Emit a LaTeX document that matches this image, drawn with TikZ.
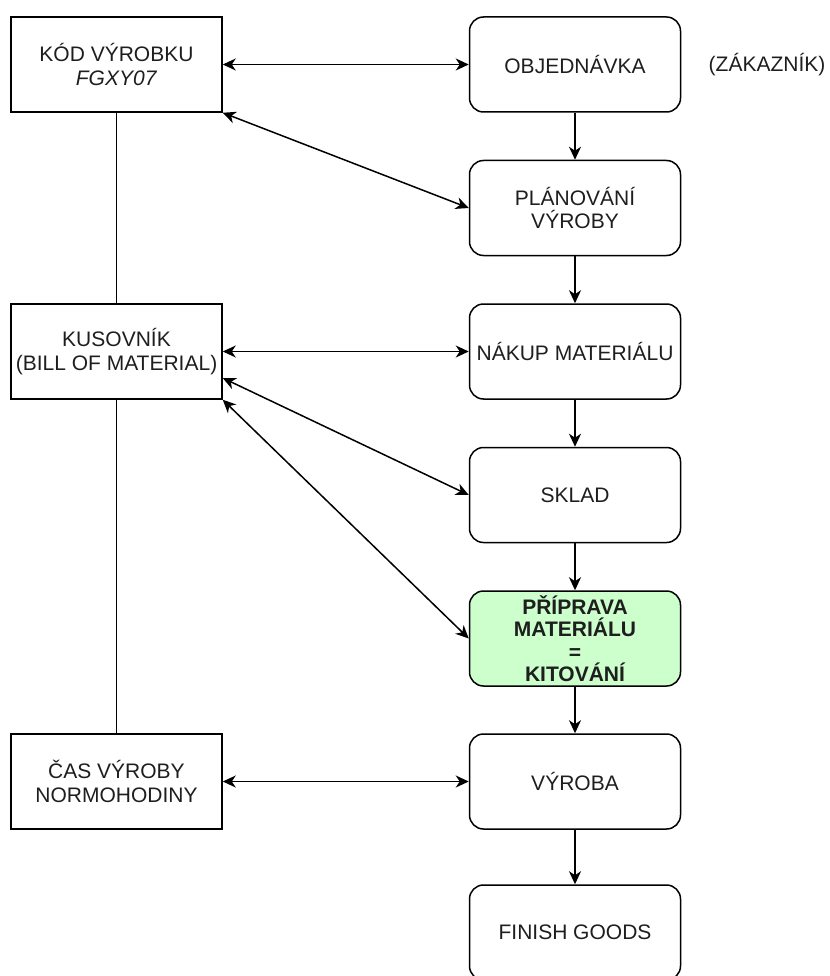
\documentclass[tikz,border=0pt]{standalone}
\usepackage{fontspec}
\setmainfont{Liberation Sans}
\usetikzlibrary{arrows.meta}
\definecolor{kitgreen}{RGB}{204,255,204}
\definecolor{txt}{RGB}{30,30,30}
\begin{document}
\begin{tikzpicture}[x=1pt,y=-1pt,
  every node/.style={font=\fontsize{21}{23.5}\selectfont, text=txt, align=center},
  sqbox/.style={draw, line width=1.5pt, minimum width=211pt, minimum height=95pt, inner sep=2pt},
  rbox/.style={draw, line width=1.5pt, rounded corners=14pt, minimum width=211pt, minimum height=95pt, inner sep=2pt},
  conn/.style={line width=1.5pt},
  tip/.tip={Stealth[length=13pt,width=12pt,inset=4pt]},
  arr/.style={conn, -tip},
  darr/.style={conn, tip-tip}]
\useasboundingbox (0,0) rectangle (829,976);
\clip (0,0) rectangle (829,976);

\node[sqbox] (kod) at (116.5,64.5) {KÓD VÝROBKU\\\textit{FGXY07}};
\node[sqbox] (kus) at (116.5,351.5) {KUSOVNÍK\\(BILL OF MATERIAL)};
\node[sqbox] (cas) at (116.5,781.5) {ČAS VÝROBY\\NORMOHODINY};

\node[rbox] (obj) at (575,64.5) {OBJEDNÁVKA};
\node[rbox] (plan) at (575,208) {PLÁNOVÁNÍ\\VÝROBY};
\node[rbox] (nak) at (575,351.5) {NÁKUP MATERIÁLU};
\node[rbox] (skl) at (575,495) {SKLAD};
\node[rbox, fill=kitgreen, font=\fontsize{21}{22.5}\selectfont\bfseries] (kit) at (575,638.5) {PŘÍPRAVA\\MATERIÁLU\\=\\KITOVÁNÍ};
\node[rbox] (vyr) at (575,781.5) {VÝROBA};
\node[rbox] (fin) at (575,932.5) {FINISH GOODS};

\node (zak) at (767,65) {(ZÁKAZNÍK)};

\draw[conn] (kod.south) -- (kus.north);
\draw[conn] (kus.south) -- (cas.north);

\draw[arr] (obj.south) -- (plan.north);
\draw[arr] (plan.south) -- (nak.north);
\draw[arr] (nak.south) -- (skl.north);
\draw[arr] (skl.south) -- (kit.north);
\draw[arr] (kit.south) -- (vyr.north);
\draw[arr] (vyr.south) -- (fin.north);

\draw[darr] (kod.east) -- (obj.west);
\draw[darr] (kod.south east) -- (plan.west);
\draw[darr] (kus.east) -- (nak.west);
\draw[darr] (kus.-14) -- (skl.west);
\draw[darr] (kus.south east) -- (kit.west);
\draw[darr] (cas.east) -- (vyr.west);
\end{tikzpicture}
\end{document}
